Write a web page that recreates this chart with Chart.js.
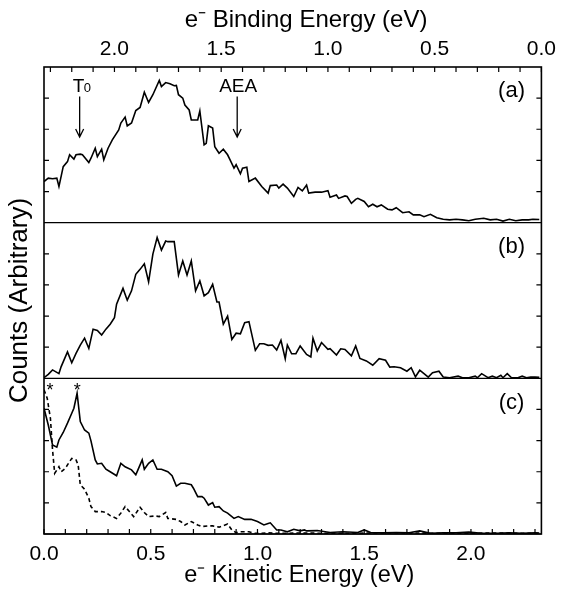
<!DOCTYPE html>
<html>
<head>
<meta charset="utf-8">
<script src="https://cdn.jsdelivr.net/npm/chart.js@4.4.1/dist/chart.umd.min.js"></script>
<style>
body { margin: 0; background: #fff; }
#wrap { width: 561px; height: 591px; }
</style>
</head>
<body>
<div id="wrap"><canvas id="spectra" width="561" height="591"></canvas></div>
<script>
// photon energy, binding energy = hv - KE
var photonEnergy = 2.33;

// panel (a)
var keA = [0.00,0.02,0.04,0.06,0.07,0.09,0.11,0.12,0.14,0.15,0.17,0.18,0.21,0.22,0.24,0.25,0.27,0.28,0.30,0.32,0.35,0.36,0.38,0.39,0.41,0.43,0.45,0.47,0.49,0.51,0.54,0.55,0.57,0.59,0.61,0.62,0.63,0.65,0.66,0.68,0.69,0.72,0.73,0.75,0.76,0.77,0.79,0.80,0.82,0.84,0.86,0.87,0.89,0.90,0.92,0.93,0.95,0.96,0.99,1.02,1.05,1.06,1.09,1.10,1.12,1.14,1.17,1.19,1.21,1.23,1.24,1.27,1.30,1.33,1.34,1.37,1.38,1.41,1.42,1.44,1.46,1.47,1.50,1.52,1.54,1.56,1.58,1.61,1.63,1.65,1.68,1.71,1.73,1.76,1.78,1.81,1.84,1.87,1.90,1.93,1.96,1.99,2.02,2.06,2.09,2.12,2.15,2.18,2.21,2.24,2.27,2.29,2.32];
var countsA = [1.32,1.43,1.41,1.43,1.16,1.80,1.96,2.18,2.04,2.18,2.20,2.18,1.93,2.07,2.39,2.12,2.36,2.02,2.39,2.66,2.98,3.20,3.39,3.11,3.20,3.60,3.70,4.19,3.86,4.11,4.57,4.37,4.50,4.46,4.40,4.41,4.11,4.00,3.78,3.62,3.30,3.30,3.59,2.50,2.55,3.11,3.04,2.44,2.23,2.36,2.18,2.04,1.75,1.86,1.57,1.75,1.78,1.32,1.43,1.16,0.95,1.19,1.21,1.11,1.24,1.11,0.84,1.13,1.02,1.21,0.95,0.98,0.98,1.03,0.82,0.89,0.78,0.86,0.84,0.62,0.75,0.78,0.68,0.51,0.59,0.51,0.57,0.43,0.41,0.48,0.32,0.35,0.25,0.25,0.19,0.27,0.16,0.11,0.09,0.11,0.09,0.06,0.11,0.14,0.09,0.11,0.05,0.11,0.06,0.09,0.09,0.11,0.10];

// panel (b)
var keB = [0.00,0.02,0.04,0.07,0.08,0.11,0.13,0.15,0.17,0.19,0.21,0.23,0.25,0.27,0.29,0.31,0.33,0.34,0.37,0.39,0.41,0.43,0.45,0.47,0.49,0.51,0.53,0.55,0.57,0.58,0.61,0.63,0.65,0.67,0.69,0.71,0.73,0.75,0.77,0.79,0.81,0.82,0.84,0.86,0.88,0.90,0.92,0.94,0.96,0.99,1.01,1.03,1.05,1.07,1.09,1.11,1.13,1.14,1.16,1.18,1.20,1.23,1.25,1.26,1.28,1.30,1.33,1.34,1.37,1.39,1.41,1.44,1.46,1.48,1.51,1.54,1.57,1.60,1.62,1.64,1.67,1.70,1.72,1.74,1.76,1.78,1.80,1.82,1.85,1.87,1.90,1.94,1.96,1.99,2.02,2.03,2.05,2.08,2.10,2.12,2.14,2.15,2.17,2.19,2.22,2.24,2.26,2.28,2.30,2.32];
var countsB = [0.02,0.13,0.27,0.15,0.37,0.85,0.50,0.80,1.07,1.29,0.96,1.58,1.54,1.39,1.58,1.74,1.95,2.38,2.89,2.51,2.81,3.34,3.50,3.68,3.10,3.99,4.52,4.12,4.41,4.39,4.39,3.32,3.77,3.32,3.77,2.81,3.13,2.65,2.75,3.02,2.45,2.45,1.74,2.00,1.25,1.45,1.43,1.79,1.82,0.90,1.11,1.11,1.06,1.07,0.91,1.22,0.63,1.07,0.79,0.79,1.04,0.77,0.69,1.29,0.88,1.15,0.93,0.95,0.75,0.95,0.93,0.72,1.04,0.64,0.56,0.42,0.63,0.58,0.36,0.37,0.34,0.23,0.34,0.05,0.26,0.15,0.04,0.18,0.23,0.04,0.02,0.07,0.02,0.02,0.07,0.02,0.15,0.02,0.07,0.02,0.10,0.02,0.15,0.02,0.02,0.07,0.02,0.04,0.04,0.03];

// panel (c), solid trace
var keC = [0.00,0.02,0.04,0.06,0.07,0.09,0.11,0.13,0.14,0.155,0.17,0.19,0.21,0.22,0.24,0.25,0.27,0.29,0.31,0.34,0.36,0.38,0.41,0.43,0.44,0.46,0.47,0.49,0.51,0.53,0.55,0.58,0.60,0.62,0.64,0.66,0.69,0.70,0.72,0.74,0.75,0.77,0.79,0.80,0.82,0.84,0.86,0.89,0.91,0.94,0.97,1.00,1.03,1.05,1.06,1.09,1.11,1.14,1.17,1.20,1.22,1.23,1.28,1.34,1.40,1.47,1.50,1.53,1.59,1.65,1.71,1.76,1.81,1.87,1.93,1.99,2.05,2.12,2.18,2.24,2.30,2.32];
var countsC = [4.04,3.50,2.86,2.79,3.02,3.26,3.56,3.88,4.04,4.52,3.61,3.34,3.24,2.99,2.38,2.25,2.27,2.08,2.00,1.87,2.27,2.16,2.06,1.90,2.06,2.38,2.08,2.27,2.38,2.08,2.08,2.00,1.87,1.54,1.63,1.63,1.58,1.47,1.20,1.20,1.15,0.93,1.01,0.86,0.88,0.74,0.67,0.50,0.56,0.47,0.47,0.40,0.29,0.34,0.36,0.13,0.13,0.07,0.15,0.10,0.13,0.10,0.11,0.05,0.07,0.05,0.13,0.05,0.04,0.05,0.04,0.10,0.02,0.04,0.04,0.06,0.02,0.02,0.04,0.02,0.04,0.03];

// panel (c), dashed trace
var keCdash = [0.00,0.015,0.03,0.04,0.05,0.07,0.08,0.10,0.11,0.13,0.15,0.16,0.17,0.19,0.21,0.22,0.24,0.27,0.29,0.31,0.34,0.36,0.38,0.40,0.42,0.45,0.47,0.49,0.52,0.54,0.57,0.58,0.62,0.64,0.66,0.69,0.72,0.74,0.77,0.79,0.82,0.86,0.88,0.90,0.92,0.96,0.99,1.02,1.05,1.08,1.19,1.42,1.65,1.88,2.12,2.32];
var countsCdash = [4.63,4.36,3.72,2.70,1.95,2.16,2.00,2.11,2.22,2.43,2.38,2.22,1.58,1.44,1.15,0.88,0.72,0.72,0.69,0.59,0.50,0.67,0.88,0.72,0.56,0.86,0.69,0.56,0.58,0.56,0.69,0.50,0.47,0.40,0.29,0.40,0.29,0.24,0.26,0.26,0.22,0.32,0.13,0.04,0.07,0.07,0.02,0.02,0.04,0.02,0.03,0.02,0.04,0.02,0.03,0.02];

var panelIds = ['ya', 'yb', 'yc'];
var panelLabels = ['(a)', '(b)', '(c)'];
var starKE = [0.028, 0.156];

var FONT = "'Liberation Sans', Arial, Helvetica, sans-serif";

function toPoints(xs, ys){
    return xs.map(function (x, i) { return {x: x, y: ys[i]}; });
}

function tickLabel(value){
    var tenths = Math.round(value * 10);
    return tenths % 5 === 0 ? (tenths / 10).toFixed(1) : '';
}

function trace(xs, ys, axis, dash){
    return {
        data: toPoints(xs, ys),
        yAxisID: axis,
        xAxisID: 'x',
        showLine: true,
        borderColor: '#000',
        borderWidth: 1.6,
        borderDash: dash || [],
        pointRadius: 0,
        fill: false
    };
}

function panelAxis(extra){
    var axis = {
        type: 'linear',
        position: 'left',
        stack: 'panels',
        stackWeight: 1,
        min: 0,
        max: 5,
        ticks: {display: false, stepSize: 1},
        grid: {display: false, drawTicks: false},
        border: {display: false},
        afterFit: function (scale) { scale.width = 44; }
    };
    return Object.assign(axis, extra || {});
}

function arrow(ctx, x, yTail, yHead){
    ctx.beginPath();
    ctx.moveTo(x, yTail); ctx.lineTo(x, yHead);
    ctx.moveTo(x - 4, yHead - 8); ctx.lineTo(x, yHead); ctx.lineTo(x + 4, yHead - 8);
    ctx.stroke();
}

// frame, inward ticks, panel dividers and the labels
var framePlugin = {
    id: 'frame',
    afterDatasetsDraw: function (chart) {
        var ctx = chart.ctx, area = chart.chartArea, s = chart.scales;
        var tickLen = 5;
        ctx.save();
        ctx.strokeStyle = '#000';
        ctx.fillStyle = '#000';
        ctx.lineWidth = 1.2;
        ctx.beginPath();
        panelIds.forEach(function (id) {
            var sc = s[id];
            var y0 = sc.getPixelForValue(0);
            ctx.moveTo(area.left, y0); ctx.lineTo(area.right, y0);
            sc.ticks.forEach(function (t) {
                if (t.value <= 0 || t.value >= 5) return;
                var y = sc.getPixelForValue(t.value);
                ctx.moveTo(area.left, y); ctx.lineTo(area.left + tickLen, y);
                ctx.moveTo(area.right, y); ctx.lineTo(area.right - tickLen, y);
            });
        });
        s.x.ticks.forEach(function (t) {
            var x = s.x.getPixelForValue(t.value);
            ctx.moveTo(x, area.bottom); ctx.lineTo(x, area.bottom - tickLen);
        });
        s.xTop.ticks.forEach(function (t) {
            var x = s.xTop.getPixelForValue(t.value);
            ctx.moveTo(x, area.top); ctx.lineTo(x, area.top + tickLen);
        });
        ctx.stroke();
        ctx.lineWidth = 1.6;
        ctx.strokeRect(area.left, area.top, area.right - area.left, area.bottom - area.top);

        // (a) (b) (c)
        ctx.font = '22px ' + FONT;
        ctx.textAlign = 'center';
        ctx.textBaseline = 'middle';
        panelIds.forEach(function (id, i) {
            ctx.fillText(panelLabels[i], s.x.getPixelForValue(2.19), s[id].getPixelForValue(4.22));
        });

        // T0 and AEA markers in (a)
        var ya = s.ya;
        ctx.lineWidth = 1.3;
        var xT = s.x.getPixelForValue(0.167);
        var xAEA = s.x.getPixelForValue(0.905);
        arrow(ctx, xT, ya.getPixelForValue(4.05), ya.getPixelForValue(2.75));
        arrow(ctx, xAEA, ya.getPixelForValue(4.05), ya.getPixelForValue(2.75));
        ctx.textBaseline = 'alphabetic';
        ctx.textAlign = 'left';
        ctx.font = '19px ' + FONT;
        var yText = ya.getPixelForValue(4.21);
        ctx.fillText('T', xT - 7, yText);
        ctx.font = '13px ' + FONT;
        ctx.fillText('0', xT + 4, yText);
        ctx.font = '19px ' + FONT;
        ctx.textAlign = 'center';
        ctx.fillText('AEA', xAEA + 1, yText);

        // stars in (c)
        ctx.font = '18px ' + FONT;
        ctx.textBaseline = 'middle';
        starKE.forEach(function (ke) {
            ctx.fillText('*', s.x.getPixelForValue(ke), s.yc.getPixelForValue(4.6));
        });
        ctx.restore();
    }
};

var energyTicks = {
    stepSize: 0.1,
    autoSkip: false,
    includeBounds: false,
    maxRotation: 0,
    color: '#000',
    font: {family: FONT, size: 21},
    callback: function (value) { return tickLabel(value); }
};

new Chart(document.getElementById('spectra'), {
    type: 'scatter',
    data: {
        datasets: [
            trace(keA, countsA, 'ya'),
            trace(keB, countsB, 'yb'),
            trace(keC, countsC, 'yc'),
            trace(keCdash, countsCdash, 'yc', [4, 3])
        ]
    },
    options: {
        responsive: false,
        animation: false,
        layout: {padding: {top: 0, right: 17, bottom: 0, left: 0}},
        plugins: {legend: {display: false}, tooltip: {enabled: false}},
        scales: {
            x: {
                type: 'linear',
                position: 'bottom',
                min: 0,
                max: photonEnergy,
                ticks: Object.assign({padding: 8}, energyTicks),
                grid: {display: false, drawTicks: false},
                border: {display: false},
                title: {display: true, text: '  e\u207B Kinetic Energy (eV)', color: '#000', font: {family: FONT, size: 23.5}, padding: {top: 0, bottom: 1}},
                afterFit: function (scale) { scale.height = 57; }
            },
            xTop: {
                type: 'linear',
                axis: 'x',
                position: 'top',
                reverse: true,
                min: 0,
                max: photonEnergy,
                ticks: Object.assign({padding: 5}, energyTicks),
                grid: {display: false, drawTicks: false},
                border: {display: false},
                title: {display: true, text: '    e\u207B Binding Energy (eV)', color: '#000', font: {family: FONT, size: 24}, padding: {top: 6, bottom: 0}},
                afterFit: function (scale) { scale.height = 67; }
            },
            // stacked boxes on the left are laid out last-first, so (c) comes first
            yc: panelAxis(),
            yb: panelAxis({title: {display: true, text: 'Counts (Arbitrary)', color: '#000', font: {family: FONT, size: 26}, padding: {top: 4, bottom: 0}}}),
            ya: panelAxis()
        }
    },
    plugins: [framePlugin]
});
</script>
</body>
</html>
